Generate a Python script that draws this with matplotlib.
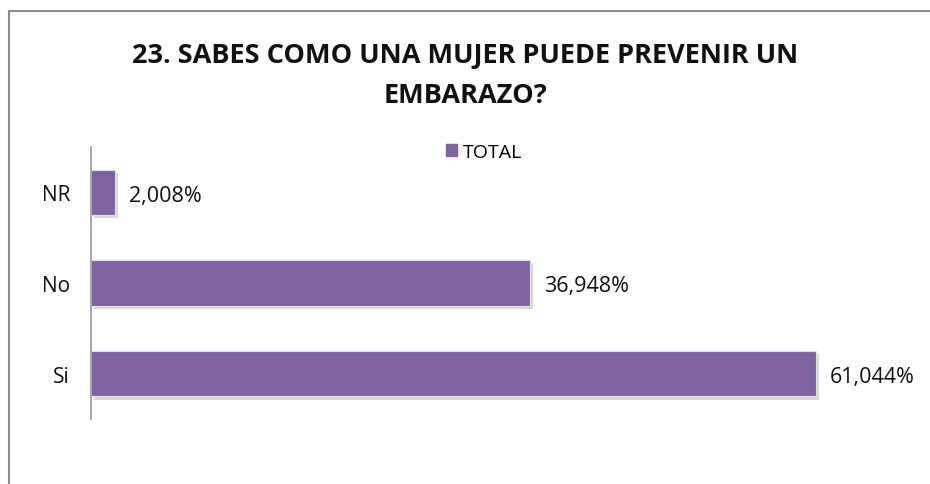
import matplotlib
matplotlib.use('Agg')
import matplotlib.pyplot as plt
import matplotlib.patheffects as pe
from matplotlib.lines import Line2D

categories = ['Si', 'No', 'NR']
values = [61.044, 36.948, 2.008]
labels = ['61,044%', '36,948%', '2,008%']

plt.rcParams['font.family'] = ['Open Sans', 'DejaVu Sans']

fig = plt.figure(figsize=(9.3, 4.85), dpi=100)
ax = fig.add_axes([91/930, 65/485, 824/930, 272/485])

bars = ax.barh(categories, values, height=0.5, color='#8064A2',
               edgecolor='#e6e0ee', linewidth=0.8)
for b in bars:
    b.set_path_effects([pe.SimplePatchShadow(offset=(2.5, -2.5), alpha=0.3, shadow_rgbFace='gray'),
                        pe.Normal()])

for b, lab in zip(bars, labels):
    ax.text(b.get_width() + 1.2, b.get_y() + b.get_height()/2 - 0.03, lab,
            va='center', ha='left', fontsize=15.5, color='#111111')

ax.set_xlim(0, 69.4)
ax.set_ylim(-0.5, 2.5)
ax.set_xticks([])
for s in ['top', 'right', 'bottom']:
    ax.spines[s].set_visible(False)
ax.spines['left'].set_color('#999999')
ax.spines['left'].set_linewidth(1.2)
ax.tick_params(axis='y', length=0, pad=15, labelsize=15, labelcolor='#111111')

fig.text(0.5, 1 - 56/485, '23. SABES COMO UNA MUJER PUEDE PREVENIR UN', ha='center', va='center',
         fontsize=19.5, fontweight='bold', color='#111111')
fig.text(0.5, 1 - 96/485, 'EMBARAZO?', ha='center', va='center',
         fontsize=19.5, fontweight='bold', color='#111111')

# legend
h = plt.Rectangle((0, 0), 1, 1, color='#8064A2')
ax.legend([h], ['TOTAL'], loc='center', bbox_to_anchor=(484/930, 1 - 153/485),
          bbox_transform=fig.transFigure, frameon=False, fontsize=14,
          handlelength=0.6, handleheight=0.6, handletextpad=0.3)

# chart frame
fig.add_artist(Line2D([9/930, 9/930], [0, 1 - 12/485], transform=fig.transFigure, color='#8c8c8c', lw=1.5))
fig.add_artist(Line2D([9/930, 1], [1 - 12/485, 1 - 12/485], transform=fig.transFigure, color='#8c8c8c', lw=1.5))

fig.savefig('out.png', dpi=100, facecolor='white')
